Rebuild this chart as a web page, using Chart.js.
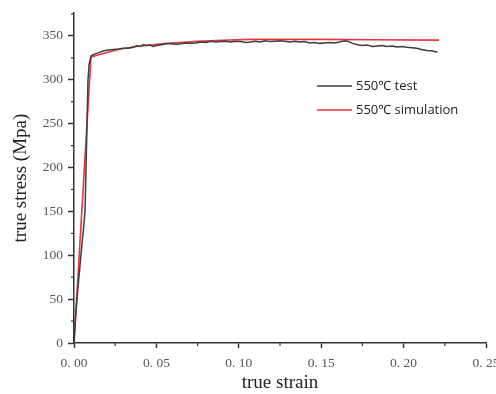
<!DOCTYPE html>
<html><head><meta charset="utf-8">
<script src="https://cdn.jsdelivr.net/npm/chart.js@4/dist/chart.umd.min.js"></script>
<style>html,body{margin:0;padding:0;background:#fff}#w{width:496px;height:394px;position:relative}</style>
</head><body><div id="w"><canvas id="c" width="496" height="394"></canvas></div>
<script>
const seriesNames = ["550℃ test", "550℃ simulation"];
const testStrain = [0,0.0008,0.0018,0.003,0.0042,0.0055,0.0067,0.0073,0.0079,0.0085,0.0092,0.0103,0.012,0.015,0.018,0.021,0.024,0.027,0.030,0.033,0.036,0.038,0.040,0.042,0.044,0.046,0.048,0.050,0.053,0.056,0.059,0.062,0.065,0.068,0.071,0.074,0.077,0.080,0.083,0.086,0.089,0.092,0.095,0.098,0.101,0.104,0.107,0.110,0.113,0.116,0.119,0.122,0.125,0.128,0.131,0.134,0.137,0.140,0.143,0.146,0.149,0.152,0.155,0.158,0.161,0.164,0.166,0.169,0.172,0.175,0.178,0.181,0.184,0.187,0.190,0.193,0.196,0.199,0.202,0.205,0.208,0.211,0.214,0.217,0.2205];
const testStress = [0,25,50,75,100,125,150,200,250,300,318,327,329,331,333,334,334.5,335,336,336,337,339,338,340,339,339.5,338,339,340,341,341,340.5,341,342,341.5,342,343,342.5,344,343,343.5,344,343,344,343.5,342.5,343,344,343,344.5,343.5,344,344.5,344,343,344,343,343.5,342,342.5,341.5,342,342.5,342,343,344.5,344,341.5,340,339,339.5,338,338.5,339,338,338.5,337.5,338,337,336.5,336,334.5,333.5,333,331.5];
const simStrain = [0,0.0103,0.02,0.028,0.038,0.048,0.056,0.064,0.075,0.09,0.107,0.13,0.15,0.18,0.2215];
const simStress = [0,326,331,335,338,340,341.5,342.5,343.8,345,346,346,346,345.7,345.2];
const xTicks = [0,0.05,0.10,0.15,0.20,0.25];
const yTicks = [0,50,100,150,200,250,300,350];

const toPts = (xs, ys) => xs.map((x,i)=>({x, y: ys[i]}));

const minorTicks = {
  id:'minorTicks',
  afterDraw(chart){
    const ctx = chart.ctx, xs = chart.scales.x, ys = chart.scales.y;
    ctx.save(); ctx.strokeStyle='#333'; ctx.lineWidth=1.2;
    for(let i=0;i<xTicks.length-1;i++){
      const px = xs.getPixelForValue((xTicks[i]+xTicks[i+1])/2);
      ctx.beginPath(); ctx.moveTo(px, ys.bottom); ctx.lineTo(px, ys.bottom+3); ctx.stroke();
    }
    for(let i=0;i<yTicks.length;i++){
      const v = yTicks[i]+25;
      if (v > ys.max) break;
      const py = ys.getPixelForValue(v);
      ctx.beginPath(); ctx.moveTo(xs.left, py); ctx.lineTo(xs.left-3, py); ctx.stroke();
    }
    ctx.restore();
  }
};
const legendPlug = {
  id:'legendPlug',
  afterDraw(chart){
    const ctx = chart.ctx;
    ctx.save();
    ctx.font = '13px "Open Sans", "Noto Sans", sans-serif';
    ctx.textBaseline='middle'; ctx.fillStyle='#222';
    chart.data.datasets.forEach((ds,i)=>{
      const y = 86 + i*24;
      ctx.strokeStyle = ds.borderColor; ctx.lineWidth = 1.6;
      ctx.beginPath(); ctx.moveTo(317,y); ctx.lineTo(352,y); ctx.stroke();
      ctx.fillText(ds.label, 356, y);
    });
    ctx.restore();
  }
};

new Chart(document.getElementById('c'), {
  type:'scatter',
  data:{datasets:[
    {label:seriesNames[0], data: toPts(testStrain,testStress), showLine:true, borderColor:'#3d3d3d', borderWidth:1.5, pointRadius:0, tension:0},
    {label:seriesNames[1], data: toPts(simStrain,simStress), showLine:true, borderColor:'#e8353f', borderWidth:1.6, pointRadius:0, tension:0}
  ]},
  options:{
    responsive:false, animation:false,
    layout:{padding:{left:0,top:12,right:10,bottom:0}},
    plugins:{legend:{display:false}, tooltip:{enabled:false}},
    scales:{
      x:{type:'linear', min:0, max:0.25,
        afterBuildTicks(s){ s.ticks = xTicks.map(v=>({value:v})); },
        afterFit(s){ s.height = 51; s.paddingRight = 0; s.paddingLeft = 0; },
        border:{color:'#333', width:1.5},
        grid:{drawOnChartArea:false, drawTicks:true, tickLength:5, tickColor:'#333', tickWidth:1.5},
        ticks:{color:'#555', padding:7, maxRotation:0, autoSkip:false, font:{family:'"Liberation Serif", serif', size:13.5},
          callback:(v)=> Number(v).toFixed(2).replace('.', '. ')},
        title:{display:true, text:'true strain', color:'#222', font:{family:'"Liberation Serif", serif', size:19}, padding:{top:0,bottom:0}}
      },
      y:{type:'linear', min:0, max:376,
        afterBuildTicks(s){ s.ticks = yTicks.map(v=>({value:v})); },
        afterFit(s){ s.width = 74; },
        border:{color:'#333', width:1.5},
        grid:{drawOnChartArea:false, drawTicks:true, tickLength:6, tickColor:'#333', tickWidth:1.5},
        ticks:{color:'#555', padding:5, font:{family:'"Liberation Serif", serif', size:13.5}},
        title:{display:true, text:'true stress (Mpa)', color:'#222', font:{family:'"Liberation Serif", serif', size:19}, padding:{top:10,bottom:0}}
      }
    }
  },
  plugins:[minorTicks, legendPlug]
});
</script></body></html>
